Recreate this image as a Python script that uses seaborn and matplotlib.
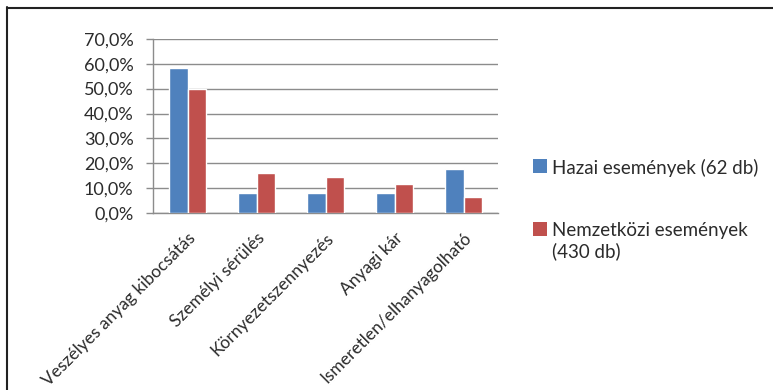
import matplotlib
matplotlib.use("Agg")
import matplotlib.pyplot as plt
import matplotlib.ticker as mticker
from matplotlib.patches import Patch
from matplotlib.lines import Line2D
import seaborn as sns
import pandas as pd

categories = ["Veszélyes anyag kibocsátás", "Személyi sérülés", "Környezetszennyezés",
              "Anyagi kár", "Ismeretlen/elhanyagolható"]
series_names = ["Hazai események (62 db)", "Nemzetközi események\n(430 db)"]
hazai = [58.1, 8.1, 8.1, 8.1, 17.7]
nemzetkozi = [50.0, 16.0, 14.5, 11.6, 6.6]
yticks = [0, 10, 20, 30, 40, 50, 60, 70]
colors = ["#4f81bd", "#c0504d"]

df = pd.DataFrame({
    "cat": categories * 2,
    "series": [series_names[0]] * len(categories) + [series_names[1]] * len(categories),
    "val": hazai + nemzetkozi,
})

sns.set_theme(style="white")
plt.rcParams["font.family"] = ["Lato", "DejaVu Sans"]
text_color = "#2b2b2b"

fig = plt.figure(figsize=(7.73, 3.9), dpi=100)
ax = fig.add_axes([153 / 773, 1 - 213.3 / 390, 345 / 773, (213.3 - 38.7) / 390])

sns.barplot(data=df, x="cat", y="val", hue="series", palette=colors, width=0.55,
            ax=ax, saturation=1, legend=False, zorder=3)

ax.set_ylim(0, 70)
ax.set_xlim(-0.5, len(categories) - 0.5)
ax.set_yticks(yticks)
ax.yaxis.set_major_formatter(mticker.FuncFormatter(lambda v, p: f"{v:.1f}".replace(".", ",") + "%"))
ax.grid(axis="y", color="#8c8c8c", linewidth=1.0, zorder=0)
ax.set_axisbelow(True)
ax.set_xlabel("")
ax.set_ylabel("")

for s in ["top", "right"]:
    ax.spines[s].set_visible(False)
for s in ["left", "bottom"]:
    ax.spines[s].set_color("#8c8c8c")
    ax.spines[s].set_linewidth(1.0)

ax.tick_params(axis="y", which="major", left=True, length=5, width=1, color="#8c8c8c",
               labelsize=13, labelcolor=text_color, pad=9)
ax.tick_params(axis="x", bottom=False, labelsize=12.5, labelcolor=text_color, pad=6)
for lab in ax.get_xticklabels():
    lab.set_rotation(45)
    lab.set_ha("right")
    lab.set_rotation_mode("anchor")

handles = [Patch(facecolor=c, edgecolor="none") for c in colors]
leg = fig.legend(handles, series_names, loc="upper left", bbox_to_anchor=(524 / 773, 1 - 150 / 390),
                 frameon=False, fontsize=13.5, labelcolor=text_color, handlelength=0.7,
                 handleheight=0.7, handletextpad=0.3, labelspacing=2.4, borderpad=0)
for col in leg._legend_handle_box.get_children():
    for item in col.get_children():
        item.align = "top"

# frame border (top and left visible in reference)
fig.add_artist(Line2D([7 / 773, 1.0], [1 - 7.5 / 390, 1 - 7.5 / 390], color="#222222", linewidth=1.5,
                      transform=fig.transFigure))
fig.add_artist(Line2D([7.5 / 773, 7.5 / 773], [0, 1 - 7 / 390], color="#222222", linewidth=1.5,
                      transform=fig.transFigure))

fig.savefig("out.png", dpi=100)
